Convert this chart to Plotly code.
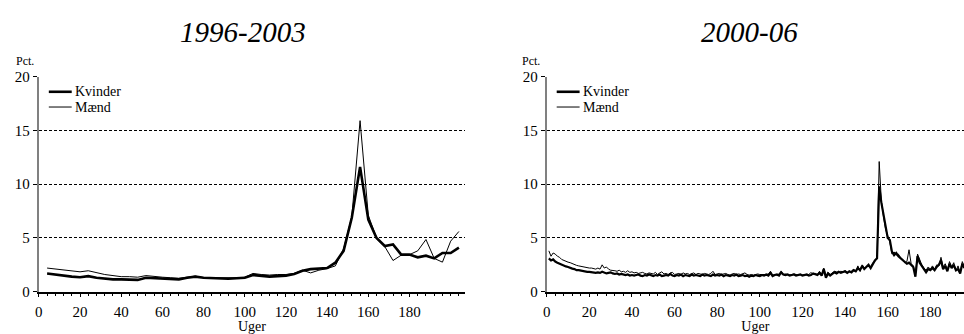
import plotly.graph_objects as go

# ---------- data ----------
weeks_a = list(range(4, 205, 4))
kvinder_a = [1.7, 1.6, 1.45, 1.4, 1.35, 1.45, 1.3, 1.2, 1.15, 1.15,
             1.1, 1.1, 1.3, 1.25, 1.25, 1.2, 1.15, 1.3, 1.4, 1.3,
             1.25, 1.2, 1.2, 1.25, 1.3, 1.55, 1.5, 1.4, 1.45, 1.5,
             1.65, 1.95, 2.1, 2.15, 2.2, 2.7, 3.8, 6.9, 11.6, 6.7,
             5.0, 4.25, 4.4, 3.45, 3.45, 3.2, 3.35, 3.1, 3.6, 3.6, 4.1]
maend_a = [2.2, 2.1, 2.0, 1.95, 1.85, 1.95, 1.75, 1.6, 1.5, 1.4,
           1.4, 1.35, 1.5, 1.4, 1.35, 1.3, 1.25, 1.35, 1.45, 1.3,
           1.3, 1.25, 1.25, 1.3, 1.35, 1.7, 1.6, 1.55, 1.6, 1.6,
           1.7, 2.0, 1.75, 2.0, 2.15, 2.4, 4.0, 7.0, 15.9, 7.1,
           5.0, 4.2, 2.9, 3.4, 3.45, 3.8, 4.85, 3.1, 2.75, 4.7, 5.6]

weeks_b = list(range(1, 197))
kvinder_b = [3.1, 2.9, 3.0, 2.8, 2.7, 2.6, 2.5, 2.4, 2.35, 2.3,
             2.2, 2.15, 2.1, 2.0, 2.0, 1.95, 1.9, 1.9, 1.85, 1.85,
             1.8, 1.8, 1.75, 1.8, 1.75, 1.85, 1.8, 1.7, 1.75, 1.8,
             1.7, 1.65, 1.7, 1.6, 1.65, 1.6, 1.55, 1.6, 1.5, 1.55,
             1.5, 1.55, 1.6, 1.5, 1.45, 1.55, 1.5, 1.6, 1.5, 1.45,
             1.55, 1.5, 1.6, 1.45, 1.5, 1.55, 1.5, 1.65, 1.5, 1.45,
             1.55, 1.5, 1.6, 1.45, 1.55, 1.5, 1.45, 1.6, 1.5, 1.55,
             1.5, 1.45, 1.6, 1.5, 1.55, 1.5, 1.45, 1.6, 1.5, 1.55,
             1.5, 1.6, 1.45, 1.55, 1.5, 1.45, 1.55, 1.5, 1.6, 1.45,
             1.5, 1.55, 1.45, 1.5, 1.4, 1.5, 1.45, 1.55, 1.5, 1.45,
             1.55, 1.5, 1.6, 1.5, 1.75, 1.45, 1.55, 1.6, 1.5, 1.8,
             1.6, 1.55, 1.6, 1.5, 1.55, 1.6, 1.5, 1.55, 1.6, 1.5,
             1.55, 1.6, 1.5, 1.55, 1.7, 1.6, 1.55, 1.75, 1.5, 2.1,
             1.3, 1.7, 1.5, 1.65, 1.8, 1.7, 1.85, 1.75, 1.8, 1.9,
             1.75, 1.9, 1.8, 2.0, 1.9, 2.2, 2.0, 2.4, 2.1, 2.3,
             2.5, 2.2, 2.6, 2.9, 3.1, 9.8, 8.3, 7.2, 6.0, 5.0,
             4.8, 3.7, 3.4, 3.6, 3.3, 3.1, 2.9, 2.8, 2.6, 2.7,
             2.5, 2.3, 1.4, 3.3, 2.7, 2.4, 2.0, 1.8, 2.1, 2.0,
             2.2, 2.0, 2.3, 2.5, 2.9, 2.1, 2.4, 1.9, 2.6, 2.2,
             2.5, 2.0, 2.1, 1.7, 2.6, 2.2]
maend_b = [3.8, 3.3, 3.6, 3.5, 3.3, 3.2, 3.0, 2.9, 2.8, 2.75,
           2.7, 2.6, 2.5, 2.45, 2.4, 2.35, 2.3, 2.3, 2.25, 2.2,
           2.2, 2.15, 2.1, 2.2, 2.1, 2.5, 2.2, 2.3, 2.1, 2.0,
           2.0, 1.95, 1.9, 2.0, 1.85, 1.9, 1.8, 1.95, 1.8, 1.85,
           1.75, 1.8, 1.7, 1.75, 1.8, 1.7, 1.65, 1.75, 1.7, 1.65,
           1.8, 1.6, 1.75, 1.85, 1.65, 1.7, 1.6, 1.75, 1.8, 1.6,
           1.65, 1.7, 1.6, 1.75, 1.65, 1.7, 1.6, 1.65, 1.75, 1.6,
           1.7, 1.65, 1.6, 1.7, 1.65, 1.6, 1.7, 1.9, 1.6, 1.65,
           1.7, 1.6, 1.65, 1.7, 1.6, 1.55, 1.65, 1.7, 1.6, 1.65,
           1.6, 1.7, 1.75, 1.6, 1.55, 1.6, 1.55, 1.6, 1.65, 1.6,
           1.6, 1.55, 1.6, 1.65, 1.9, 1.55, 1.6, 1.55, 1.65, 1.9,
           1.6, 1.65, 1.6, 1.55, 1.6, 1.65, 1.6, 1.55, 1.6, 1.55,
           1.6, 1.55, 1.6, 1.8, 1.6, 1.7, 1.6, 1.9, 1.6, 2.2,
           1.5, 1.8, 1.6, 1.75, 1.9, 1.85, 1.8, 1.9, 1.85, 1.95,
           1.8, 1.85, 1.9, 2.1, 1.85, 2.4, 1.9, 2.5, 2.2, 2.3,
           2.4, 2.3, 2.7, 2.8, 3.2, 12.1, 8.5, 7.0, 5.8, 5.2,
           4.6, 3.5, 3.7, 3.4, 3.5, 3.2, 3.0, 2.7, 2.8, 3.9,
           2.6, 2.4, 1.6, 3.5, 3.0, 2.5, 2.2, 2.0, 2.3, 2.1,
           2.4, 2.1, 2.5, 2.4, 3.2, 2.3, 2.6, 2.0, 2.8, 2.3,
           2.7, 1.9, 2.4, 1.8, 2.8, 2.3]

titles = ["1996-2003", "2000-06"]
series_names = ["Kvinder", "Mænd"]
y_ticks = [0, 5, 10, 15, 20]
x_ticks = [0, 20, 40, 60, 80, 100, 120, 140, 160, 180]

# ---------- figure ----------
W, H = 964, 334
FONT = "Liberation Serif"

fig = go.Figure()
fig.add_trace(go.Scatter(x=weeks_a, y=kvinder_a, mode="lines", name=series_names[0],
                         line=dict(color="black", width=2.6), xaxis="x", yaxis="y",
                         showlegend=False))
fig.add_trace(go.Scatter(x=weeks_a, y=maend_a, mode="lines", name=series_names[1],
                         line=dict(color="black", width=1), xaxis="x", yaxis="y",
                         showlegend=False))
fig.add_trace(go.Scatter(x=weeks_b, y=kvinder_b, mode="lines", name=series_names[0],
                         line=dict(color="black", width=2.2), xaxis="x2", yaxis="y2",
                         showlegend=False))
fig.add_trace(go.Scatter(x=weeks_b, y=maend_b, mode="lines", name=series_names[1],
                         line=dict(color="black", width=1), xaxis="x2", yaxis="y2",
                         showlegend=False))

ydom = [36 / H, 262 / H]


def xax(dom, rng):
    return dict(domain=dom, range=rng, showgrid=False, zeroline=False,
                showline=True, linecolor="black", linewidth=1.5,
                ticks="outside", ticklen=4, tickcolor="black", tickwidth=1,
                tickvals=x_ticks, ticktext=[str(t) for t in x_ticks],
                minor=dict(dtick=4, tick0=0, ticks="outside", ticklen=3,
                           tickcolor="black", showgrid=False),
                tickfont=dict(family=FONT, size=15, color="black"),
                ticklabelstandoff=2,
                title=dict(text="Uger", font=dict(family=FONT, size=14, color="black"),
                           standoff=0),
                fixedrange=True)


def yax(anchor):
    return dict(domain=ydom, range=[0, 20], anchor=anchor,
                showgrid=True, gridcolor="black", gridwidth=1, griddash="3px,2px",
                zeroline=False, showline=True, linecolor="#808080", linewidth=2,
                ticks="outside", ticklen=4, tickcolor="black",
                tickvals=y_ticks, ticktext=[str(t) for t in y_ticks],
                tickfont=dict(family=FONT, size=15, color="black"),
                fixedrange=True)


annotations = [
    dict(text="<i>" + titles[0] + "</i>", x=240 / W, y=(H - 25) / H,
         font=dict(family=FONT, size=29, color="black")),
    dict(text="<i>" + titles[1] + "</i>", x=749 / W, y=(H - 25) / H,
         font=dict(family=FONT, size=29, color="black")),
    dict(text="Pct.", x=10 / W, y=(H - 56) / H, xanchor="left",
         font=dict(family=FONT, size=12, color="black")),
    dict(text="Pct.", x=518 / W, y=(H - 56) / H, xanchor="left",
         font=dict(family=FONT, size=12, color="black")),
]
shapes = []
# manual legends (styling only)
for x0 in [45, 555]:
    for i, (nm, wdt) in enumerate(zip(series_names, [2.6, 1])):
        yy = 88 + 16 * i
        shapes.append(dict(type="line", xref="paper", yref="paper",
                           x0=x0 / W, x1=(x0 + 23) / W, y0=(H - yy) / H, y1=(H - yy) / H,
                           line=dict(color="black", width=wdt)))
        annotations.append(dict(text=nm, x=(x0 + 24) / W, y=(H - yy) / H, xanchor="left",
                                font=dict(family=FONT, size=14, color="black")))

for a in annotations:
    a.update(xref="paper", yref="paper", showarrow=False)
    a.setdefault("xanchor", "center")
    a.setdefault("yanchor", "middle")

fig.update_layout(
    width=W, height=H,
    margin=dict(l=0, r=0, t=0, b=0),
    paper_bgcolor="white", plot_bgcolor="white",
    font=dict(family=FONT, color="black"),
    xaxis=dict(**xax([35 / W, 463 / W], [0, 207]), anchor="y"),
    yaxis=yax("x"),
    xaxis2=dict(**xax([545 / W, 1.0], [0, 195.8]), anchor="y2"),
    yaxis2=yax("x2"),
    annotations=annotations,
    shapes=shapes,
)

fig.write_html("out.html", config={"displayModeBar": False})
